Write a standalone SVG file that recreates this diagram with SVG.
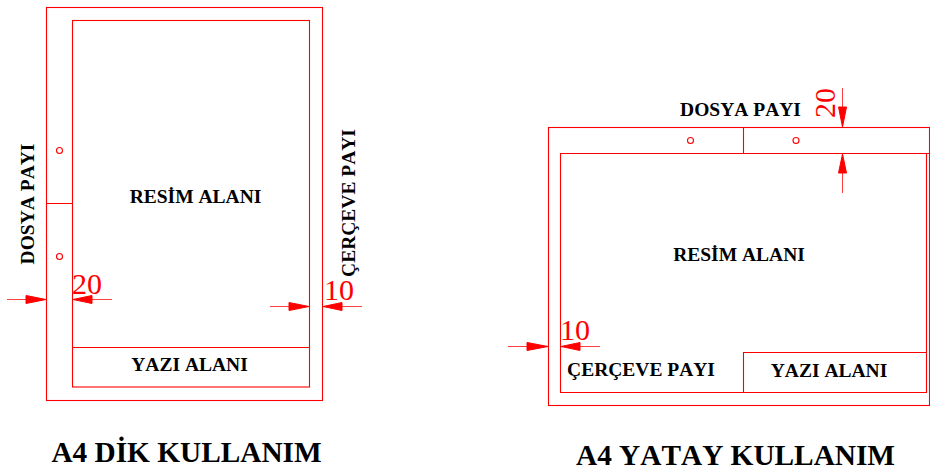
<svg xmlns="http://www.w3.org/2000/svg" width="930" height="469" viewBox="0 0 930 469">
<defs><style>
.l{fill:none;stroke:#ff0000;stroke-width:1.100}
.d{fill:none;stroke:#ff0000;stroke-width:1;opacity:.75}
.a{fill:#ff0000;stroke:#ff0000;stroke-width:1}
.t{font-family:"Liberation Serif","Times New Roman",serif;font-weight:bold;font-size:19.500px;fill:#000;font-kerning:none}
.h{font-family:"Liberation Serif","Times New Roman",serif;font-weight:bold;font-size:29.300px;fill:#000;font-kerning:none}
.n{font-family:"Liberation Serif","Times New Roman",serif;font-size:30px;fill:#ff0000}
</style></defs>
<rect width="930" height="469" fill="#fff"/>
<g id="a4-dik">
<rect class="l" x="46.500" y="7.500" width="276" height="393"/>
<rect class="l" x="72.500" y="20.500" width="237" height="366.500"/>
<path class="l" d="M72.500 347.500H309.500M46.500 203.500H72.500"/>
<circle class="l" cx="59.500" cy="150.500" r="3"/>
<circle class="l" cx="59.500" cy="256.500" r="3"/>
</g>
<g id="a4-yatay">
<rect class="l" x="548.500" y="127.500" width="381" height="278"/>
<path class="l" d="M929.500 153.500H560.500V392.500H926.500V153.500M743.500 127.500V153.500M743.500 392.500V352.500H926.500M843 153.500H862M560.500 392.500H600"/>
<circle class="l" cx="690.500" cy="140.500" r="3"/>
<circle class="l" cx="796" cy="140.500" r="3"/>
</g>
<g id="connectors">
<path class="d" d="M7 299.500H46M73 299.500H112M270 306.500H309M323 306.500H362M508 346.500H548M561 346.500H600M842.500 88V127M842.500 154V193"/>
<path class="a" d="M26 295.500L46 299.500L26 303.500ZM73 299.500L92 295.500V303.500ZM289 302.500L309 306.500L289 310.500ZM323 306.500L342 302.500V310.500ZM527 342.500L548 346.500L527 350.500ZM561 346.500L580 342.500V350.500ZM838.500 107L842.500 127L846.500 107ZM842.500 154L838.500 173H846.500Z"/>
</g>
<g id="labels">
<text class="t" x="195.500" y="203" text-anchor="middle">RESİM ALANI</text>
<text class="t" x="189.500" y="371" text-anchor="middle">YAZI ALANI</text>
<text class="t" transform="translate(33.500 204) rotate(-90)" text-anchor="middle">DOSYA PAYI</text>
<text class="t" transform="translate(354.500 203) rotate(-90)" text-anchor="middle">ÇERÇEVE PAYI</text>
<text class="n" x="72" y="294">20</text>
<text class="n" x="324" y="300">10</text>
<text class="h" x="186.500" y="462" text-anchor="middle">A4 DİK KULLANIM</text>
<text class="t" x="740.500" y="116" text-anchor="middle">DOSYA PAYI</text>
<text class="t" x="739" y="261" text-anchor="middle">RESİM ALANI</text>
<text class="t" x="641" y="376" text-anchor="middle">ÇERÇEVE PAYI</text>
<text class="t" x="829" y="377" text-anchor="middle">YAZI ALANI</text>
<text class="n" x="560" y="340">10</text>
<text class="n" transform="translate(835 118) rotate(-90)">20</text>
<text class="h" x="735.500" y="465" text-anchor="middle">A4 YATAY KULLANIM</text>
</g>
</svg>
